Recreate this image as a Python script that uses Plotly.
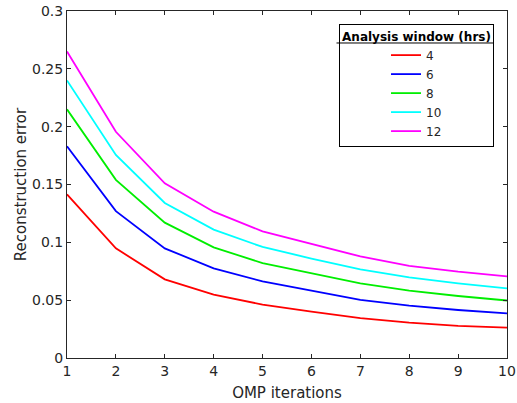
import plotly.graph_objects as go

iterations = [1, 2, 3, 4, 5, 6, 7, 8, 9, 10]
window_labels = ["4", "6", "8", "10", "12"]
err_4 = [0.1415, 0.0948, 0.068, 0.0548, 0.0462, 0.0400, 0.0345, 0.0306, 0.0278, 0.0262]
err_6 = [0.183, 0.127, 0.0948, 0.0775, 0.0662, 0.0580, 0.0502, 0.0452, 0.0415, 0.0385]
err_8 = [0.215, 0.154, 0.117, 0.0957, 0.0820, 0.0730, 0.0645, 0.0582, 0.0536, 0.0497]
err_10 = [0.240, 0.1755, 0.134, 0.111, 0.0960, 0.0860, 0.0767, 0.0697, 0.0645, 0.0602]
err_12 = [0.265, 0.1956, 0.151, 0.1265, 0.1095, 0.0985, 0.0878, 0.0797, 0.0746, 0.0705]
series = [err_4, err_6, err_8, err_10, err_12]
colors = ["#ff0000", "#0000ff", "#00ee00", "#00ffff", "#ff00ff"]

x_ticks = [1, 2, 3, 4, 5, 6, 7, 8, 9, 10]
y_ticks = [0, 0.05, 0.1, 0.15, 0.2, 0.25, 0.3]
y_ticktext = ["0", "0.05", "0.1", "0.15", "0.2", "0.25", "0.3"]

FONT = "DejaVu Sans"
AX = "#262626"

fig = go.Figure()
for name, vals, col in zip(window_labels, series, colors):
    fig.add_trace(go.Scatter(x=iterations, y=vals, mode="lines", name=name,
                             line=dict(color=col, width=1.8)))

axis_common = dict(showgrid=False, zeroline=False, showline=True, linecolor=AX,
                   linewidth=1, mirror="ticks", ticks="inside", ticklen=4,
                   tickcolor=AX, tickwidth=1, automargin=False,
                   tickfont=dict(family=FONT, size=14, color=AX))

fig.update_layout(
    width=517, height=403,
    margin=dict(l=67, r=10, t=11, b=45),
    plot_bgcolor="white", paper_bgcolor="white",
    font=dict(family=FONT, color=AX),
    xaxis=dict(range=[1, 10], tickvals=x_ticks,
               title=dict(text="OMP iterations", font=dict(family=FONT, size=15, color=AX), standoff=9),
               **axis_common),
    yaxis=dict(range=[0, 0.3], tickvals=y_ticks, ticktext=y_ticktext,
               title=dict(text="Reconstruction error", font=dict(family=FONT, size=15, color=AX), standoff=1),
               **axis_common),
    legend=dict(x=0.9705, y=0.9625, xanchor="right", yanchor="top",
                bgcolor="rgba(255,255,255,0)", bordercolor="black", borderwidth=1,
                font=dict(family=FONT, size=12, color=AX),
                title=dict(text="<b>Analysis window (hrs)</b>", side="top center",
                           font=dict(family=FONT, size=12, color="black")),
                indentation=46, tracegroupgap=0),
)

fig.add_shape(type="line", xref="paper", yref="paper", x0=0.6125, x1=0.9695,
              y0=0.9078, y1=0.9078, line=dict(color="black", width=1))

fig.write_html("out.html", config={"displayModeBar": False},
               post_script="document.body.style.margin='0';document.body.style.padding='0';")
